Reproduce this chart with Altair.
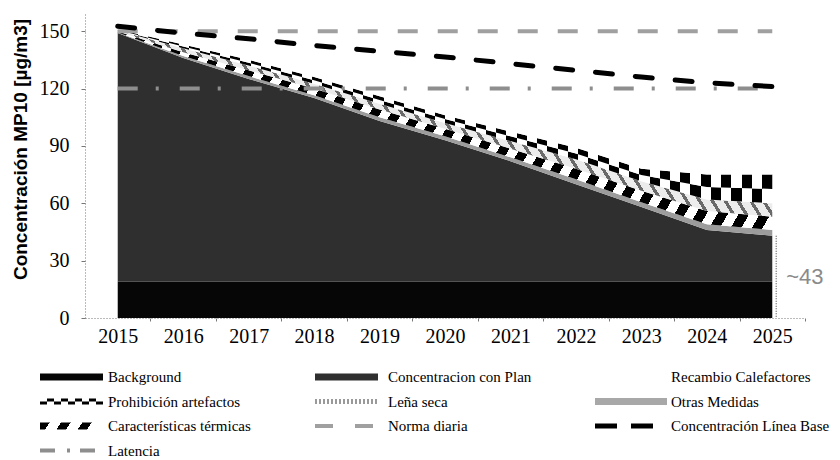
import altair as alt
import pandas as pd

# ---------------- data ----------------
years = list(range(2015, 2026))
linea_base = [152.5, 149, 146, 142.5, 139.5, 136.5, 133, 129.5, 126, 123, 121]
con_plan = [149, 136, 125, 115, 103, 93, 82, 70, 58, 46, 43]
background = [19, 19, 19, 19, 19, 19, 19, 19, 19, 19, 19]
otras_medidas = [0.3, 1, 1.5, 1.5, 2, 2, 2, 2.5, 2.5, 3, 3]
caracteristicas = [0.5, 2, 3, 3.5, 4, 4, 4.5, 5.5, 6, 7, 7]
lena_seca = [0.5, 2, 2.5, 2.5, 3, 3, 4, 5, 5, 6, 7]
prohibicion = [0.7, 2, 3, 3.5, 4, 4, 5, 6, 6.5, 13, 15]
recambio = [1.5, 6, 11, 16.5, 23.5, 30.5, 35.5, 40.5, 48, 48, 46]
norma_diaria = [150] * 11
latencia = [120] * 11
y_ticks = [0, 30, 60, 90, 120, 150]

legend_labels = [
    "Background", "Concentracion con Plan", "Recambio Calefactores",
    "Prohibición artefactos", "Leña seca", "Otras Medidas",
    "Características térmicas", "Norma diaria", "Concentración Línea Base",
    "Latencia",
]

# ---------------- stacked bands ----------------
bands = [
    ("Background", background),
    ("Concentracion con Plan", [c - b for c, b in zip(con_plan, background)]),
    ("Otras Medidas", otras_medidas),
    ("Características térmicas", caracteristicas),
    ("Leña seca", lena_seca),
    ("Prohibición artefactos", prohibicion),
    ("Recambio Calefactores", recambio),
]
rows = []
for i, yr in enumerate(years):
    acc = 0.0
    for name, vals in bands:
        lo, hi = acc, acc + vals[i]
        if name == "Prohibición artefactos":
            mid = (lo + hi) / 2
            rows.append({"year": yr, "serie": name + " a", "lo": lo, "hi": mid})
            rows.append({"year": yr, "serie": name + " b", "lo": mid, "hi": hi})
        else:
            rows.append({"year": yr, "serie": name, "lo": lo, "hi": hi})
        acc = hi
area_df = pd.DataFrame(rows)

lines_df = pd.DataFrame({"year": years, "linea_base": linea_base,
                         "norma": norma_diaria, "latencia": latencia})


def stripes(n, c1, c2, frac=0.5, x1=0, y1=0, x2=1, y2=0, phase=0.0):
    stops = []
    for i in range(n):
        a = (i) / n
        b = (i + frac) / n
        c = (i + 1) / n
        cols = (c1, c2) if phase == 0 else (c2, c1)
        stops += [alt.GradientStop(offset=round(a, 5), color=cols[0]),
                  alt.GradientStop(offset=round(b, 5), color=cols[0]),
                  alt.GradientStop(offset=round(b, 5), color=cols[1]),
                  alt.GradientStop(offset=round(c, 5), color=cols[1])]
    return alt.LinearGradient(gradient="linear", stops=stops,
                              x1=x1, y1=y1, x2=x2, y2=y2)


fills = {
    "Background": "#060606",
    "Concentracion con Plan": "#2f2f2f",
    "Otras Medidas": "#9c9c9c",
    "Características térmicas": stripes(36, "#000000", "#ffffff", 0.5, 0, 0, 1.14, 0.2),
    "Leña seca": stripes(60, "#6a6a6a", "#ececec", 0.3, 0, 1, 1.14, 0.8),
    "Prohibición artefactos a": stripes(32, "#000000", "#ffffff", 0.5),
    "Prohibición artefactos b": stripes(32, "#000000", "#ffffff", 0.5, phase=1),
    "Recambio Calefactores": "#ffffff",
}

XS = alt.Scale(domain=[2014.5, 2025.5], nice=False, zero=False)
YS = alt.Scale(domain=[0, 160], nice=False, zero=False)
XAX = alt.Axis(values=years, format="d", title=None, grid=False,
               labelFont="Liberation Serif", labelFontSize=20, labelColor="black",
               labelPadding=5, tickOffset=32.7, labelOffset=-32.7,
               tickSize=3, tickColor="#777", domainColor="#777",
               domainDash=[1, 2], domainWidth=1)
YAX = alt.Axis(values=y_ticks, title="Concentración MP10 [µg/m3]", grid=False,
               labelFont="Liberation Serif", labelFontSize=20, labelColor="black",
               labelPadding=12, tickSize=4, tickColor="#777", domainColor="#777",
               domainDash=[1, 2], domainWidth=1,
               titleFont="Liberation Sans", titleFontWeight="bold", titleFontSize=19,
               titleColor="black", titleAngle=270, titleX=-65, titleY=137,
               titleAlign="center", titleBaseline="middle")
X = alt.X("year:Q", scale=XS, axis=XAX)

area_layers = []
for serie, fill in fills.items():
    area_layers.append(
        alt.Chart(area_df)
        .transform_filter(alt.datum.serie == serie)
        .mark_area(fill=fill, interpolate="linear")
        .encode(x=X, y=alt.Y("lo:Q", scale=YS, axis=YAX), y2="hi:Q")
    )

line_base = alt.Chart(lines_df).mark_line(
    color="black", strokeWidth=5, strokeDash=[17, 23], strokeCap="round"
).encode(x=X, y=alt.Y("linea_base:Q", scale=YS, axis=YAX))
line_norma = alt.Chart(lines_df).mark_line(
    color="#a0a0a0", strokeWidth=4, strokeDash=[20, 20]
).encode(x=X, y=alt.Y("norma:Q", scale=YS, axis=YAX))
line_lat = alt.Chart(lines_df).mark_line(
    color="#8e8e8e", strokeWidth=4, strokeDash=[20, 18, 3, 21]
).encode(x=X, y=alt.Y("latencia:Q", scale=YS, axis=YAX))

ann_df = pd.DataFrame({"year": [years[-1]], "v": [con_plan[-1]], "z": [0],
                       "mid": [con_plan[-1] / 2], "txt": [f"~{con_plan[-1]}"]})
ann_rule = alt.Chart(ann_df).mark_rule(
    color="#777", strokeDash=[1, 1.5], strokeWidth=1.5, xOffset=4
).encode(x=X, y=alt.Y("v:Q", scale=YS, axis=YAX), y2="z:Q")
ann_text = alt.Chart(ann_df).mark_text(
    align="left", baseline="middle", dx=14, fontSize=22, color="#8a8a8a",
    font="Liberation Sans"
).encode(x=X, y=alt.Y("mid:Q", scale=YS, axis=YAX), text="txt:N")

main = alt.layer(*area_layers, line_norma, line_lat, line_base, ann_rule, ann_text)

# ---------------- legend (laid out in pixel space) ----------------
LEG_Y0, LEG_DY = 377, 24.5
SW_X0 = [40, 315, 595]
SW_X1 = [103, 378, 667]
TXT_X = [108, 388, 671]
lrows = []
for i, lab in enumerate(legend_labels):
    r, c = divmod(i, 3)
    ly = LEG_Y0 + r * LEG_DY
    lrows.append({"label": lab, "ly": ly, "ly_top": ly - 3.5, "ly_bot": ly + 3.5,
                  "ly_a": ly - 1.5, "ly_b": ly + 1.5,
                  "sx": SW_X0[c], "sx2": SW_X1[c], "tx": TXT_X[c]})
legend_df = pd.DataFrame(lrows)

LX = alt.Scale(domain=[85, 805], nice=False, zero=False)
LY = alt.Scale(domain=[318, 12], nice=False, zero=False)


def lbase(label):
    return alt.Chart(legend_df).transform_filter(alt.datum.label == label)


def lrect(label, fill):
    return lbase(label).mark_rect(fill=fill).encode(
        x=alt.X("sx:Q", scale=LX, axis=None), x2="sx2:Q",
        y=alt.Y("ly_top:Q", scale=LY, axis=None), y2="ly_bot:Q")


def lrule(label, field, **kw):
    return lbase(label).mark_rule(strokeCap="butt", **kw).encode(
        x=alt.X("sx:Q", scale=LX, axis=None), x2="sx2:Q",
        y=alt.Y(field + ":Q", scale=LY, axis=None))


legend_layers = [
    lrect("Background", "#060606"),
    lrect("Concentracion con Plan", "#2f2f2f"),
    lrule("Prohibición artefactos", "ly_a", color="black", strokeWidth=3,
          strokeDash=[7, 7], strokeDashOffset=7),
    lrule("Prohibición artefactos", "ly_b", color="black", strokeWidth=3,
          strokeDash=[7, 7]),
    lrule("Leña seca", "ly", color="#9a9a9a", strokeWidth=5, strokeDash=[2, 2]),
    lrect("Otras Medidas", "#a8a8a8"),
    lrect("Características térmicas",
          stripes(3, "#000000", "#ffffff", 0.45, 0, 0, 1, 0.073)),
    lrule("Norma diaria", "ly", color="#a0a0a0", strokeWidth=4, strokeDash=[18, 22]),
    lrule("Concentración Línea Base", "ly", color="black", strokeWidth=5,
          strokeDash=[22, 14]),
    lrule("Latencia", "ly", color="#8e8e8e", strokeWidth=4, strokeDash=[15, 12, 3, 10]),
    alt.Chart(legend_df).mark_text(
        align="left", baseline="middle", font="Liberation Serif", fontSize=15,
        color="black"
    ).encode(x=alt.X("tx:Q", scale=LX, axis=None),
             y=alt.Y("ly:Q", scale=LY, axis=None), text="label:N"),
]
legend = alt.layer(*legend_layers)

chart = (
    alt.layer(main, legend)
    .resolve_scale(x="independent", y="independent")
    .properties(width=720, height=306,
                padding={"left": 85, "top": 12, "right": 35, "bottom": 142},
                autosize=alt.AutoSizeParams(type="none"))
    .configure(background="white")
    .configure_view(stroke="transparent")
)

chart.save("out.html", embed_options={"renderer": "svg", "actions": False})
